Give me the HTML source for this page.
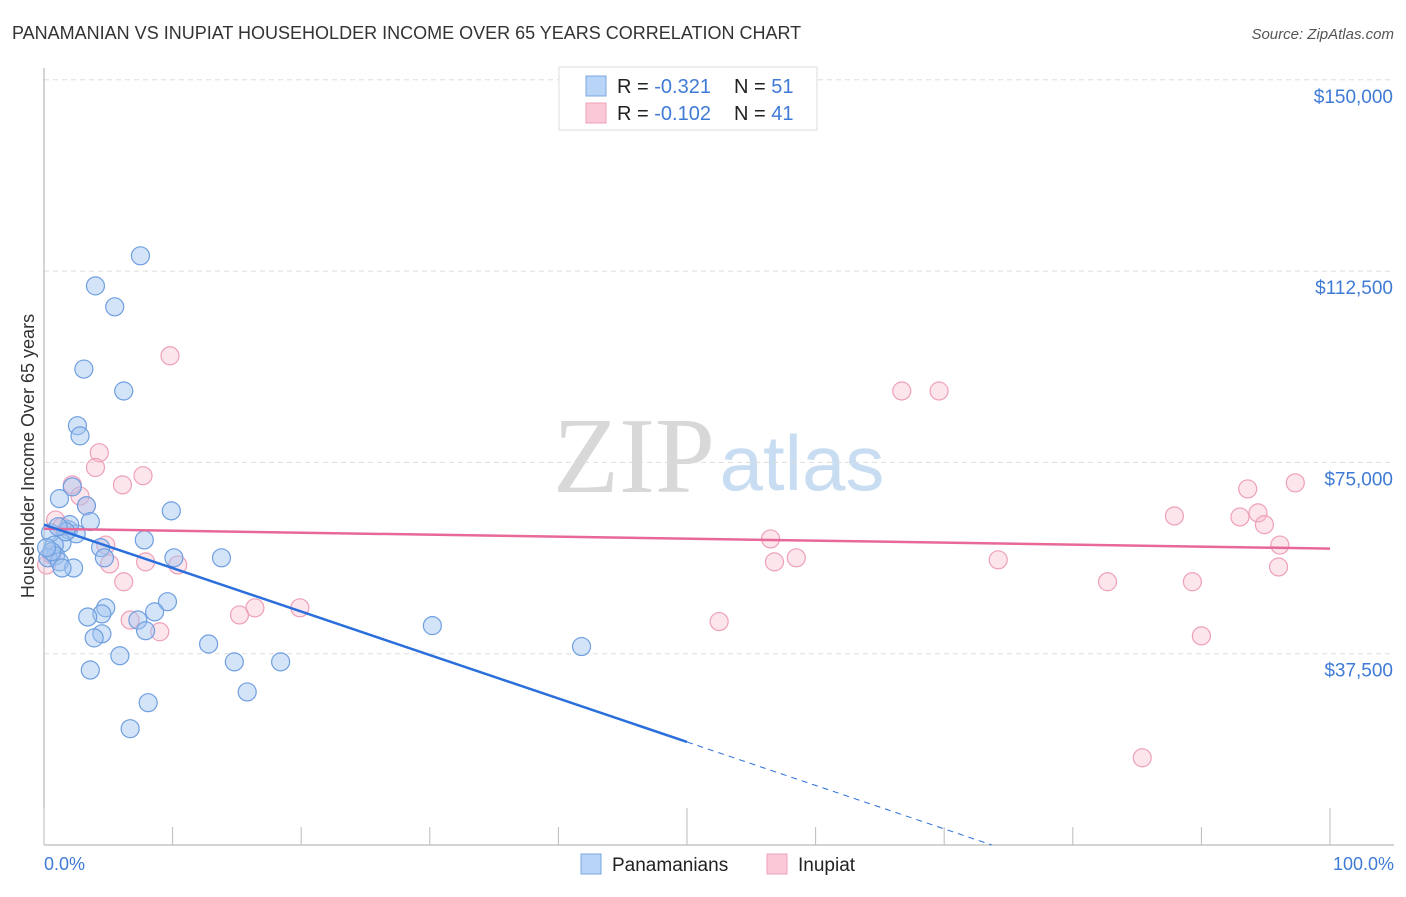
<!DOCTYPE html>
<html><head><meta charset="utf-8"><style>
body{margin:0;background:#fff;font-family:"Liberation Sans",sans-serif}
</style></head><body>
<svg id="chart" width="1406" height="892" xmlns="http://www.w3.org/2000/svg">
<text x="12" y="39" font-size="18" fill="#333">PANAMANIAN VS INUPIAT HOUSEHOLDER INCOME OVER 65 YEARS CORRELATION CHART</text>
<text x="1394" y="39" font-size="15" fill="#555" font-style="italic" text-anchor="end">Source: ZipAtlas.com</text>
<g>
<text x="634" y="492" font-size="108" font-family="Liberation Serif,serif" fill="#d8d8d8" text-anchor="middle">ZIP</text>
<text x="802" y="490" font-size="78" fill="#c8dcf2" text-anchor="middle">atlas</text>
</g>
<g id="grid"></g><g id="axes"></g><g id="marks"></g>
<text transform="translate(34,456) rotate(-90)" font-size="18" fill="#333" text-anchor="middle">Householder Income Over 65 years</text>
<text x="44" y="870" font-size="18" fill="#3f7bd6">0.0%</text>
<text x="1394" y="870" font-size="18" fill="#3f7bd6" text-anchor="end">100.0%</text>
<g>
<rect x="559" y="67" width="258" height="63" fill="#fff" stroke="#ddd"/>
<rect x="586" y="76" width="20" height="20" fill="#b8d4f6" stroke="#7aa7e6"/>
<rect x="586" y="103" width="20" height="20" fill="#fac8d6" stroke="#f0a0b8"/>
<text x="617" y="93" font-size="20" fill="#222">R = <tspan fill="#3f7bd6">-0.321</tspan><tspan x="734">N = </tspan><tspan fill="#3f7bd6">51</tspan></text>
<text x="617" y="120" font-size="20" fill="#222">R = <tspan fill="#3f7bd6">-0.102</tspan><tspan x="734">N = </tspan><tspan fill="#3f7bd6">41</tspan></text>
</g>
<g>
<rect x="581" y="854" width="20" height="20" fill="#b8d4f6" stroke="#7aa7e6"/>
<text x="612" y="871" font-size="19" fill="#222">Panamanians</text>
<rect x="767" y="854" width="20" height="20" fill="#fac8d6" stroke="#f0a0b8"/>
<text x="798" y="871" font-size="19" fill="#222">Inupiat</text>
</g>
</svg>
<script>
const yTicks=[37500,75000,112500,150000];
const yTickLabels=["$37,500","$75,000","$112,500","$150,000"];
const blueX=[7.5,4.0,5.5,3.1,6.2,2.6,2.8,2.2,1.2,3.3,3.6,9.9,7.8,1.9,2.5,1.4,0.5,0.8,0.9,0.3,1.2,2.3,1.4,4.4,4.7,10.1,13.8,9.6,8.6,4.8,4.5,3.4,7.3,7.9,4.5,3.9,12.8,5.9,3.6,14.8,18.4,15.8,8.1,6.7,30.2,41.8,0.6,0.2,2.0,1.7,1.1];
const blueY=[115.5,109.6,105.5,93.3,89.0,82.2,80.2,70.2,67.9,66.5,63.4,65.5,59.8,61.8,61.0,59.2,61.2,58.8,56.7,56.3,55.5,54.3,54.3,58.3,56.3,56.3,56.3,47.7,45.7,46.5,45.3,44.7,44.1,42.0,41.4,40.6,39.4,37.1,34.3,35.9,35.9,30.0,27.9,22.8,43.0,38.9,57.5,58.3,62.8,61.4,62.4];
const pinkX=[9.8,66.7,69.6,4.3,4.0,7.7,6.1,2.2,2.8,3.3,0.9,1.4,4.8,0.2,0.6,7.9,5.1,10.4,6.2,56.5,58.5,56.8,74.2,82.7,89.3,93.6,97.3,87.9,93.0,94.4,94.9,96.1,96.0,16.4,15.2,19.9,6.7,9.0,52.5,90.0,85.4];
const pinkY=[95.9,89.0,89.0,76.9,74.0,72.4,70.6,70.6,68.4,66.5,63.7,62.4,58.8,54.9,56.9,55.5,55.1,54.9,51.6,60.0,56.3,55.5,55.9,51.6,51.6,69.8,71.0,64.5,64.3,65.1,62.8,58.8,54.5,46.5,45.1,46.5,44.1,41.8,43.8,41.0,17.1];
const blueFit=[62.8,-0.852]; const pinkFit=[62.0,-0.039];
const NS="http://www.w3.org/2000/svg";
const X=p=>44+p*12.86, Y=v=>845-v*1000/37500*191.3;
function mk(t,a,p){const e=document.createElementNS(NS,t);for(const k in a)e.setAttribute(k,a[k]);p.appendChild(e);return e;}
const grid=document.getElementById('grid'),axes=document.getElementById('axes'),marks=document.getElementById('marks');
yTicks.forEach((v,i)=>{
 const l=mk('line',{x1:44,x2:1394,y1:Y(v/1000),y2:Y(v/1000),stroke:'#ddd','stroke-dasharray':'5,4'},grid);
 
 
 const t=mk('text',{x:1393,y:Y(v/1000)+23,'font-size':19,fill:'#3f7bd6','text-anchor':'end'},grid);
 t.textContent=yTickLabels[i];
 
 
});
const ya=mk('line',{x1:44,x2:44,y1:68,y2:845,stroke:'#aaa'},axes);


const xa=mk('line',{x1:44,x2:1394,y1:845,y2:845,stroke:'#aaa'},axes);


for(let i=0;i<=10;i++){const big=i%5==0;const t=mk('line',{x1:X(i*10),x2:X(i*10),y1:big?808:827,y2:845,stroke:'#bbb'},axes);
 
 }
function dots(xs,ys,fill,stroke,name){xs.forEach((x,i)=>{const c=mk('circle',{cx:X(x),cy:Y(ys[i]),r:9,fill:fill,stroke:stroke,'stroke-width':1.2},marks);
 
 });}
dots(pinkX,pinkY,'rgba(248,180,200,0.35)','#eea0b8','inupiat-point');
dots(blueX,blueY,'rgba(160,196,240,0.45)','#6f9fe0','panamanian-point');
const pl=mk('line',{x1:X(0),y1:Y(pinkFit[0]),x2:X(100),y2:Y(pinkFit[0]+pinkFit[1]*100),stroke:'#e8689a','stroke-width':2.5},marks);


const bl=mk('line',{x1:X(0),y1:Y(blueFit[0]),x2:X(50),y2:Y(blueFit[0]+blueFit[1]*50),stroke:'#2a6fdb','stroke-width':2.5},marks);


const xz=-blueFit[0]/blueFit[1];
const bd=mk('line',{x1:X(50),y1:Y(blueFit[0]+blueFit[1]*50),x2:X(xz),y2:Y(0),stroke:'#2a6fdb','stroke-width':1,'stroke-dasharray':'6,5'},marks);


</script>
</body></html>
